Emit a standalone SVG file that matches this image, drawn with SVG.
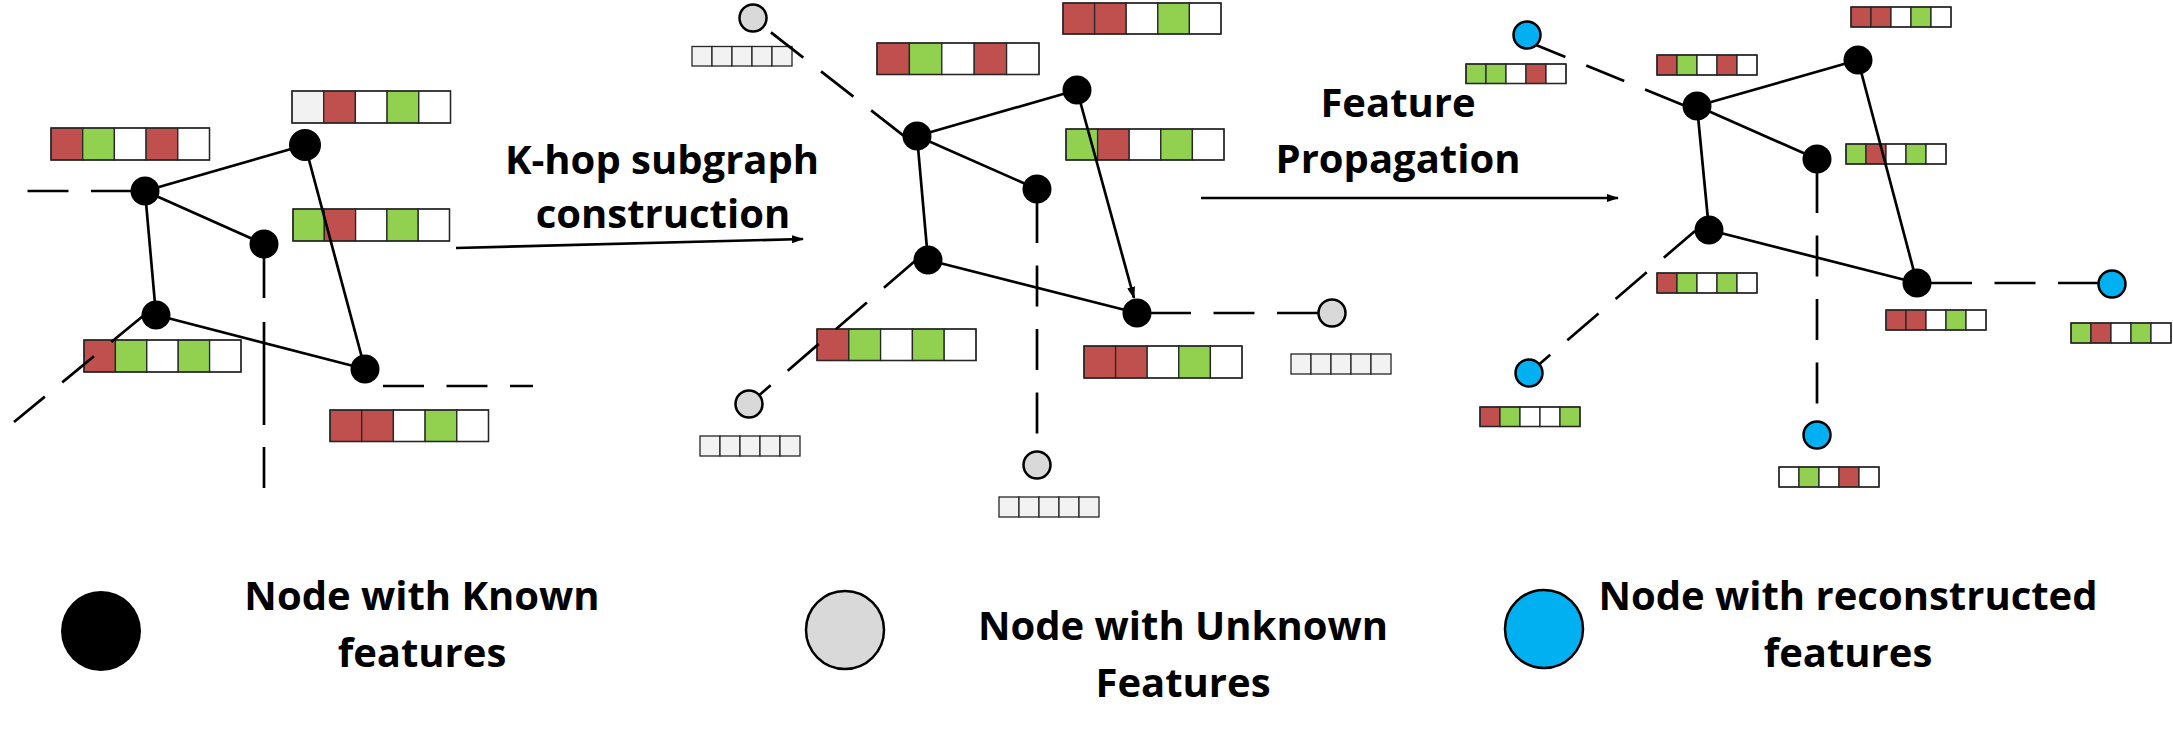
<svg xmlns="http://www.w3.org/2000/svg" width="2173" height="736" viewBox="0 0 2173 736">
<style>
.bg{fill:#fff}
.r{fill:#C0504D}.g{fill:#92D050}.w{fill:#fff}.l{fill:#F2F2F2}
.cells rect{stroke:#262626;stroke-width:1.3}
.frame{fill:none;stroke:#808080;stroke-width:1.5}
.e{stroke:#000;stroke-width:2.7;fill:none}
.d{stroke:#000;stroke-width:2.7;fill:none;stroke-dasharray:41 22.5}
.k{fill:#000}
.u{fill:#D9D9D9;stroke:#000;stroke-width:2.5}
.b{fill:#00B0F0;stroke:#000;stroke-width:2.5}
.t{font-family:"Open Sans","Liberation Sans",sans-serif;font-weight:bold;font-size:40px;fill:#000;text-anchor:middle}
</style>
<defs>
<marker id="ah" markerUnits="userSpaceOnUse" markerWidth="12" markerHeight="8" refX="11" refY="4" orient="auto">
<path d="M0,0 L12,4 L0,8 z" fill="#000"/>
</marker>
</defs>
<rect class="bg" x="0" y="0" width="2173" height="736"/>

<!-- feature vectors -->
<g id="vectors">
<!-- left graph -->
<g class="cells" transform="translate(51,128)"><rect class="r" x="0" y="0" width="31.7" height="32"/><rect class="g" x="31.7" y="0" width="31.7" height="32"/><rect class="w" x="63.4" y="0" width="31.7" height="32"/><rect class="r" x="95.1" y="0" width="31.7" height="32"/><rect class="w" x="126.8" y="0" width="31.7" height="32"/><rect class="frame" x="0" y="0" width="158.5" height="32"/></g>
<g class="cells" transform="translate(292,91)"><rect class="l" x="0" y="0" width="31.7" height="32"/><rect class="r" x="31.7" y="0" width="31.7" height="32"/><rect class="w" x="63.4" y="0" width="31.7" height="32"/><rect class="g" x="95.1" y="0" width="31.7" height="32"/><rect class="w" x="126.8" y="0" width="31.7" height="32"/><rect class="frame" x="0" y="0" width="158.5" height="32"/></g>
<g class="cells" transform="translate(293,209)"><rect class="g" x="0" y="0" width="31.3" height="32"/><rect class="r" x="31.3" y="0" width="31.3" height="32"/><rect class="w" x="62.6" y="0" width="31.3" height="32"/><rect class="g" x="93.9" y="0" width="31.3" height="32"/><rect class="w" x="125.2" y="0" width="31.3" height="32"/><rect class="frame" x="0" y="0" width="156.5" height="32"/></g>
<g class="cells" transform="translate(84,340)"><rect class="r" x="0" y="0" width="31.4" height="32"/><rect class="g" x="31.4" y="0" width="31.4" height="32"/><rect class="w" x="62.8" y="0" width="31.4" height="32"/><rect class="g" x="94.2" y="0" width="31.4" height="32"/><rect class="w" x="125.6" y="0" width="31.4" height="32"/><rect class="frame" x="0" y="0" width="157" height="32"/></g>
<g class="cells" transform="translate(330,410)"><rect class="r" x="0" y="0" width="31.7" height="31.5"/><rect class="r" x="31.7" y="0" width="31.7" height="31.5"/><rect class="w" x="63.4" y="0" width="31.7" height="31.5"/><rect class="g" x="95.1" y="0" width="31.7" height="31.5"/><rect class="w" x="126.8" y="0" width="31.7" height="31.5"/><rect class="frame" x="0" y="0" width="158.5" height="31.5"/></g>
<!-- middle graph -->
<g class="cells" transform="translate(877,43)"><rect class="r" x="0" y="0" width="32.4" height="31.5"/><rect class="g" x="32.4" y="0" width="32.4" height="31.5"/><rect class="w" x="64.8" y="0" width="32.4" height="31.5"/><rect class="r" x="97.2" y="0" width="32.4" height="31.5"/><rect class="w" x="129.6" y="0" width="32.4" height="31.5"/><rect class="frame" x="0" y="0" width="162" height="31.5"/></g>
<g class="cells" transform="translate(1063,3)"><rect class="r" x="0" y="0" width="31.6" height="31"/><rect class="r" x="31.6" y="0" width="31.6" height="31"/><rect class="w" x="63.2" y="0" width="31.6" height="31"/><rect class="g" x="94.8" y="0" width="31.6" height="31"/><rect class="w" x="126.4" y="0" width="31.6" height="31"/><rect class="frame" x="0" y="0" width="158" height="31"/></g>
<g class="cells" transform="translate(1066,129)"><rect class="g" x="0" y="0" width="31.6" height="31"/><rect class="r" x="31.6" y="0" width="31.6" height="31"/><rect class="w" x="63.2" y="0" width="31.6" height="31"/><rect class="g" x="94.8" y="0" width="31.6" height="31"/><rect class="w" x="126.4" y="0" width="31.6" height="31"/><rect class="frame" x="0" y="0" width="158" height="31"/></g>
<g class="cells" transform="translate(817,329)"><rect class="r" x="0" y="0" width="31.8" height="31.5"/><rect class="g" x="31.8" y="0" width="31.8" height="31.5"/><rect class="w" x="63.6" y="0" width="31.8" height="31.5"/><rect class="g" x="95.4" y="0" width="31.8" height="31.5"/><rect class="w" x="127.2" y="0" width="31.8" height="31.5"/><rect class="frame" x="0" y="0" width="159" height="31.5"/></g>
<g class="cells" transform="translate(1084,346)"><rect class="r" x="0" y="0" width="31.6" height="32"/><rect class="r" x="31.6" y="0" width="31.6" height="32"/><rect class="w" x="63.2" y="0" width="31.6" height="32"/><rect class="g" x="94.8" y="0" width="31.6" height="32"/><rect class="w" x="126.4" y="0" width="31.6" height="32"/><rect class="frame" x="0" y="0" width="158" height="32"/></g>
<g class="cells" transform="translate(692,46.5)"><rect class="l" x="0" y="0" width="20" height="19.5"/><rect class="l" x="20" y="0" width="20" height="19.5"/><rect class="l" x="40" y="0" width="20" height="19.5"/><rect class="l" x="60" y="0" width="20" height="19.5"/><rect class="l" x="80" y="0" width="20" height="19.5"/></g>
<g class="cells" transform="translate(700,436)"><rect class="l" x="0" y="0" width="20" height="20"/><rect class="l" x="20" y="0" width="20" height="20"/><rect class="l" x="40" y="0" width="20" height="20"/><rect class="l" x="60" y="0" width="20" height="20"/><rect class="l" x="80" y="0" width="20" height="20"/></g>
<g class="cells" transform="translate(999,497)"><rect class="l" x="0" y="0" width="20" height="20"/><rect class="l" x="20" y="0" width="20" height="20"/><rect class="l" x="40" y="0" width="20" height="20"/><rect class="l" x="60" y="0" width="20" height="20"/><rect class="l" x="80" y="0" width="20" height="20"/></g>
<g class="cells" transform="translate(1291,354)"><rect class="l" x="0" y="0" width="20" height="20"/><rect class="l" x="20" y="0" width="20" height="20"/><rect class="l" x="40" y="0" width="20" height="20"/><rect class="l" x="60" y="0" width="20" height="20"/><rect class="l" x="80" y="0" width="20" height="20"/></g>
<!-- right graph -->
<g class="cells" transform="translate(1657,55)"><rect class="r" x="0" y="0" width="20" height="20"/><rect class="g" x="20" y="0" width="20" height="20"/><rect class="w" x="40" y="0" width="20" height="20"/><rect class="r" x="60" y="0" width="20" height="20"/><rect class="w" x="80" y="0" width="20" height="20"/><rect class="frame" x="0" y="0" width="100" height="20"/></g>
<g class="cells" transform="translate(1851,7)"><rect class="r" x="0" y="0" width="20" height="20"/><rect class="r" x="20" y="0" width="20" height="20"/><rect class="w" x="40" y="0" width="20" height="20"/><rect class="g" x="60" y="0" width="20" height="20"/><rect class="w" x="80" y="0" width="20" height="20"/><rect class="frame" x="0" y="0" width="100" height="20"/></g>
<g class="cells" transform="translate(1846,144)"><rect class="g" x="0" y="0" width="20" height="20"/><rect class="r" x="20" y="0" width="20" height="20"/><rect class="w" x="40" y="0" width="20" height="20"/><rect class="g" x="60" y="0" width="20" height="20"/><rect class="w" x="80" y="0" width="20" height="20"/><rect class="frame" x="0" y="0" width="100" height="20"/></g>
<g class="cells" transform="translate(1657,273)"><rect class="r" x="0" y="0" width="20" height="20"/><rect class="g" x="20" y="0" width="20" height="20"/><rect class="w" x="40" y="0" width="20" height="20"/><rect class="g" x="60" y="0" width="20" height="20"/><rect class="w" x="80" y="0" width="20" height="20"/><rect class="frame" x="0" y="0" width="100" height="20"/></g>
<g class="cells" transform="translate(1886,310)"><rect class="r" x="0" y="0" width="20" height="20"/><rect class="r" x="20" y="0" width="20" height="20"/><rect class="w" x="40" y="0" width="20" height="20"/><rect class="g" x="60" y="0" width="20" height="20"/><rect class="w" x="80" y="0" width="20" height="20"/><rect class="frame" x="0" y="0" width="100" height="20"/></g>
<g class="cells" transform="translate(1466,64)"><rect class="g" x="0" y="0" width="20" height="19.5"/><rect class="g" x="20" y="0" width="20" height="19.5"/><rect class="w" x="40" y="0" width="20" height="19.5"/><rect class="r" x="60" y="0" width="20" height="19.5"/><rect class="w" x="80" y="0" width="20" height="19.5"/><rect class="frame" x="0" y="0" width="100" height="19.5"/></g>
<g class="cells" transform="translate(1480,407)"><rect class="r" x="0" y="0" width="20" height="19.5"/><rect class="g" x="20" y="0" width="20" height="19.5"/><rect class="w" x="40" y="0" width="20" height="19.5"/><rect class="w" x="60" y="0" width="20" height="19.5"/><rect class="g" x="80" y="0" width="20" height="19.5"/><rect class="frame" x="0" y="0" width="100" height="19.5"/></g>
<g class="cells" transform="translate(1779,467)"><rect class="w" x="0" y="0" width="20" height="20"/><rect class="g" x="20" y="0" width="20" height="20"/><rect class="w" x="40" y="0" width="20" height="20"/><rect class="r" x="60" y="0" width="20" height="20"/><rect class="w" x="80" y="0" width="20" height="20"/><rect class="frame" x="0" y="0" width="100" height="20"/></g>
<g class="cells" transform="translate(2071,323)"><rect class="g" x="0" y="0" width="20" height="20"/><rect class="r" x="20" y="0" width="20" height="20"/><rect class="w" x="40" y="0" width="20" height="20"/><rect class="g" x="60" y="0" width="20" height="20"/><rect class="w" x="80" y="0" width="20" height="20"/><rect class="frame" x="0" y="0" width="100" height="20"/></g>
</g>

<!-- connectors -->
<g id="connectors">
<!-- left graph -->
<line class="e" x1="145" y1="191" x2="305" y2="145"/>
<line class="e" x1="145" y1="191" x2="264" y2="244"/>
<line class="e" x1="145" y1="191" x2="156" y2="315"/>
<line class="e" x1="156" y1="315" x2="365" y2="369"/>
<line class="e" x1="305" y1="145" x2="365" y2="369"/>
<line class="d" x1="132" y1="191" x2="27" y2="191"/>
<line class="d" x1="143" y1="316" x2="14" y2="422"/>
<path class="e" d="M264,256 V298 M264,322 V425 M264,447 V488"/>
<line class="d" x1="383" y1="386" x2="533" y2="386"/>
<!-- step arrows -->
<line class="e" x1="456" y1="248" x2="803" y2="239" stroke-width="2.5" marker-end="url(#ah)"/>
<line class="e" x1="1201" y1="198" x2="1618" y2="198" stroke-width="2.5" marker-end="url(#ah)"/>
<!-- middle graph -->
<line class="e" x1="917" y1="136" x2="1077" y2="90"/>
<line class="e" x1="917" y1="136" x2="1037" y2="189"/>
<line class="e" x1="917" y1="136" x2="928" y2="260"/>
<line class="e" x1="928" y1="260" x2="1137" y2="313"/>
<line class="e" x1="1077" y1="90" x2="1134" y2="298" marker-end="url(#ah)"/>
<line class="d" x1="903.5" y1="135.6" x2="764" y2="27"/>
<line class="d" x1="915" y1="261" x2="749" y2="404"/>
<line class="d" x1="1037" y1="202" x2="1037" y2="451"/>
<line class="d" x1="1150" y1="313" x2="1318" y2="313"/>
<!-- right graph -->
<line class="e" x1="1697" y1="106" x2="1858" y2="60"/>
<line class="e" x1="1697" y1="106" x2="1817" y2="159"/>
<line class="e" x1="1697" y1="106" x2="1709" y2="230"/>
<line class="e" x1="1709" y1="230" x2="1917" y2="283"/>
<line class="e" x1="1858" y1="60" x2="1917" y2="283"/>
<line class="d" x1="1683" y1="105" x2="1536" y2="45"/>
<line class="d" x1="1695" y1="231" x2="1529" y2="373"/>
<line class="d" x1="1817" y1="172" x2="1817" y2="421"/>
<line class="d" x1="1931" y1="283" x2="2098" y2="283"/>
</g>

<!-- nodes -->
<g id="node-A"><circle class="k" cx="145" cy="191" r="14.5"/></g>
<g id="node-B"><circle class="k" cx="305" cy="145" r="16"/></g>
<g id="node-C"><circle class="k" cx="264" cy="244" r="14.5"/></g>
<g id="node-D"><circle class="k" cx="156" cy="315" r="14.5"/></g>
<g id="node-E"><circle class="k" cx="365" cy="369" r="14.5"/></g>

<g id="node-M1"><circle class="k" cx="917" cy="136" r="14.5"/></g>
<g id="node-M2"><circle class="k" cx="1077" cy="90" r="14.5"/></g>
<g id="node-M3"><circle class="k" cx="1037" cy="189" r="14.5"/></g>
<g id="node-M4"><circle class="k" cx="928" cy="260" r="14.5"/></g>
<g id="node-M5"><circle class="k" cx="1137" cy="313" r="14.5"/></g>
<g id="node-U1"><circle class="u" cx="753" cy="18" r="13.5"/></g>
<g id="node-U2"><circle class="u" cx="749" cy="404" r="13.5"/></g>
<g id="node-U3"><circle class="u" cx="1037" cy="465" r="13.5"/></g>
<g id="node-U4"><circle class="u" cx="1332" cy="313" r="13.5"/></g>

<g id="node-R1"><circle class="k" cx="1697" cy="106" r="14.5"/></g>
<g id="node-R2"><circle class="k" cx="1858" cy="60" r="14.5"/></g>
<g id="node-R3"><circle class="k" cx="1817" cy="159" r="14.5"/></g>
<g id="node-R4"><circle class="k" cx="1709" cy="230" r="14.5"/></g>
<g id="node-R5"><circle class="k" cx="1917" cy="283" r="14.5"/></g>
<g id="node-N1"><circle class="b" cx="1527" cy="35" r="13.5"/></g>
<g id="node-N2"><circle class="b" cx="1529" cy="373" r="13.5"/></g>
<g id="node-N3"><circle class="b" cx="1817" cy="435" r="13.5"/></g>
<g id="node-N4"><circle class="b" cx="2112" cy="284" r="13.5"/></g>

<!-- step labels -->
<g id="label-khop">
<text class="t" x="662" y="174">K-hop subgraph</text>
<text class="t" x="663" y="228">construction</text>
</g>
<g id="label-fp">
<text class="t" x="1398" y="117">Feature</text>
<text class="t" x="1398" y="173">Propagation</text>
</g>

<!-- legend -->
<g id="legend-known">
<circle class="k" cx="101" cy="631" r="40"/>
<text class="t" x="422" y="610">Node with Known</text>
<text class="t" x="422" y="667">features</text>
</g>
<g id="legend-unknown">
<circle class="u" cx="845" cy="630" r="39" stroke-width="1.5"/>
<text class="t" x="1183" y="640">Node with Unknown</text>
<text class="t" x="1183" y="697">Features</text>
</g>
<g id="legend-reconstructed">
<circle class="b" cx="1544" cy="629" r="39" stroke-width="1.5"/>
<text class="t" x="1848" y="610">Node with reconstructed</text>
<text class="t" x="1848" y="667">features</text>
</g>
</svg>
